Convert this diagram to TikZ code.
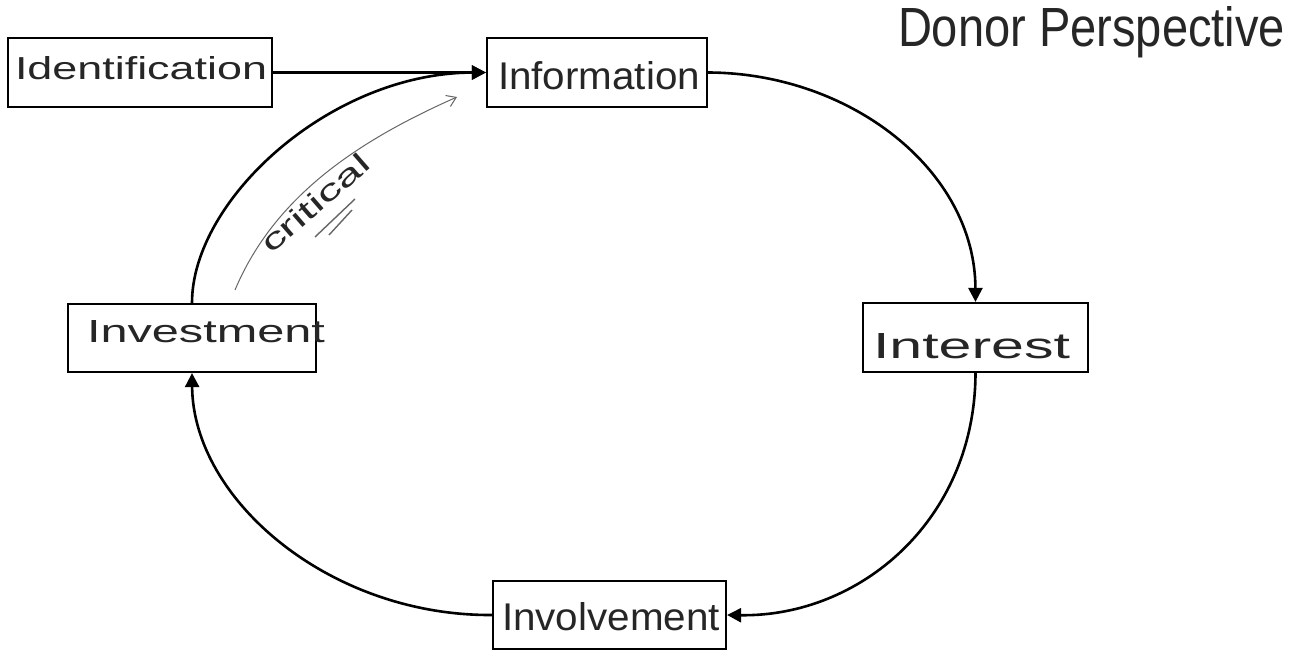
\documentclass[tikz,border=0pt]{standalone}
\usepackage{fontspec}
\setmainfont{Liberation Sans}
\usepackage{graphicx}
\usetikzlibrary{arrows.meta}
\begin{document}
\begin{tikzpicture}[x=1pt,y=-1pt,
  box/.style={draw=black,line width=2.2pt,rectangle,inner sep=0pt},
  hand/.style={inner sep=0pt,outer sep=0pt,anchor=base west,text=black!85},
  cyc/.style={line width=2.6pt,-{Triangle[length=14pt,width=14pt]}},
  thin/.style={line width=1pt,draw=black!60}]
\useasboundingbox (0,0) rectangle (1315,652);
\fill[white] (0,0) rectangle (1315,652);
% boxes
\node[box,minimum width=264pt,minimum height=69pt] (ident) at (140,72.5) {};
\node[box,minimum width=220pt,minimum height=69pt] (info) at (597,72.5) {};
\node[box,minimum width=225pt,minimum height=69pt] (inter) at (975.5,337.5) {};
\node[box,minimum width=248pt,minimum height=68pt] (invest) at (192,338) {};
\node[box,minimum width=233pt,minimum height=68pt] (invol) at (609.5,615) {};
% labels
\node[hand] (tident) at (15,80) {\resizebox{252pt}{23pt}{Identification}};
\node[hand] (tinfo) at (498,90) {\resizebox{202pt}{28pt}{Information}};
\node[hand] (tinter) at (873,358) {\resizebox{197pt}{25pt}{Interest}};
\node[hand] (tinvest) at (87,343) {\resizebox{238pt}{22pt}{Investment}};
\node[hand] (tinvol) at (502,630) {\resizebox{218pt}{28pt}{Involvement}};
\node[hand] (donor) at (898,47) {\resizebox{387pt}{40pt}{Donor Perspective}};
\node[hand,rotate=41] (crit) at (271,255) {\resizebox{134pt}{21pt}{critical}};
% connectors
\draw[cyc] (ident.east) -- (info.west);
\draw[cyc] (info.east) .. controls (850,73) and (975,170) .. (inter.north);
\draw[cyc] (inter.south) .. controls (975,520) and (860,617) .. (invol.east);
\draw[cyc] (invol.west) .. controls (330,616) and (193,500) .. (invest.south);
\draw[cyc] (invest.north) .. controls (192,200) and (330,73) .. (info.west);
% critical arrow
\coordinate (cs) at (235,290);
\coordinate (ce) at (457,97);
\draw[thin,-{Straight Barb[length=9pt,width=12pt]}] (cs) .. controls (275,195) and (360,140) .. (ce);
\draw[thin,line width=1.4pt] (315,237) -- (355,199);
\draw[thin,line width=1.4pt] (329,235) -- (352,210);
\end{tikzpicture}
\end{document}
